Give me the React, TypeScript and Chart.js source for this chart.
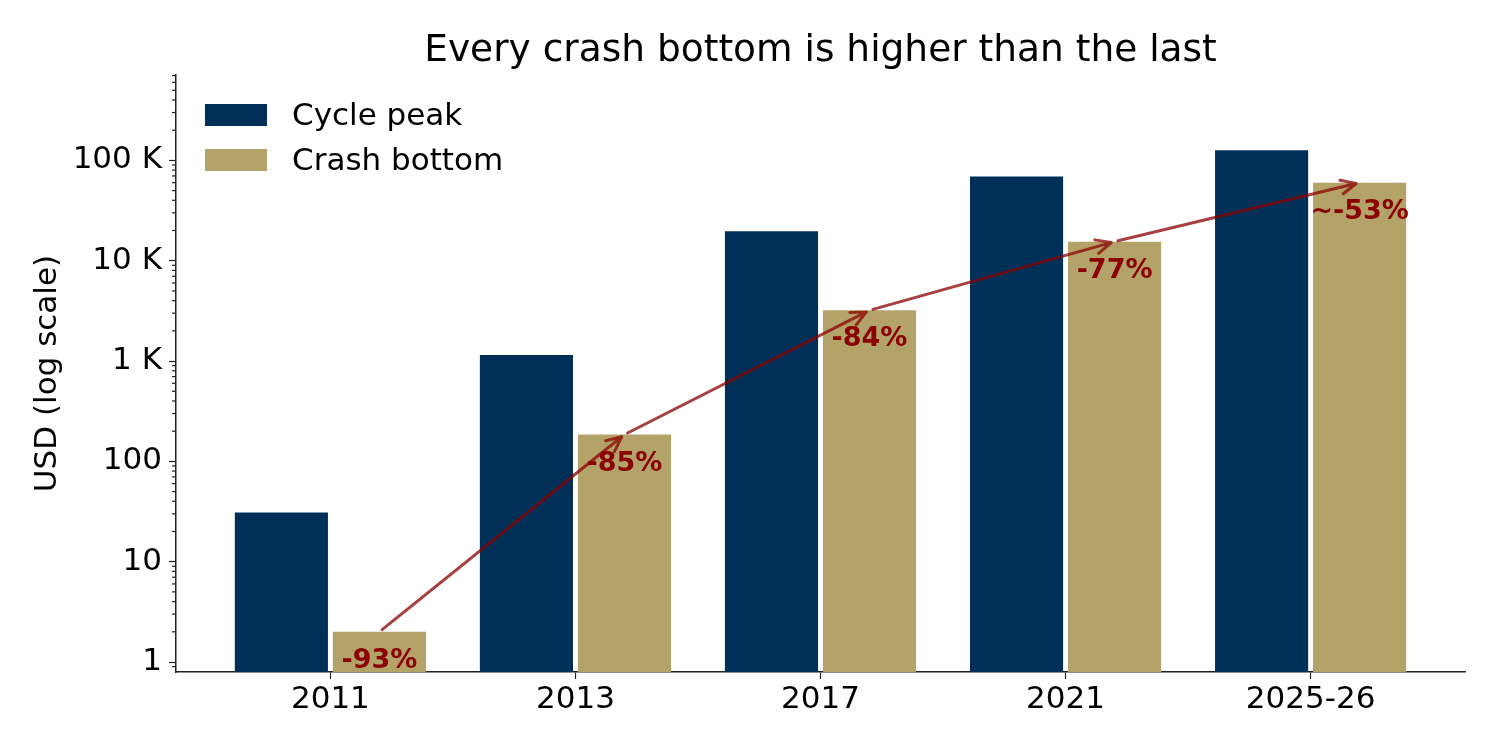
import { useEffect, useRef } from "react"
import { Chart, registerables } from "chart.js"

Chart.register(...registerables)

const cycles = ["2011", "2013", "2017", "2021", "2025-26"]
const cyclePeak = [31, 1150, 19700, 69000, 126000]
const crashBottom = [2, 185, 3200, 15500, 60000]
const drawdownLabels = ["-93%", "-85%", "-84%", "-77%", "~-53%"]
const yTickValues = [1, 10, 100, 1000, 10000, 100000]
const yTickLabels = ["1", "10", "100", "1 K", "10 K", "100 K"]

const NAVY = "#003057"
const GOLD = "#B3A369"
const AXIS = "#222222"
const FONT = "'DejaVu Sans', sans-serif"

// log-scale helpers: which generated ticks are decades / integer minors
function decadeIndex(v: number) {
  return yTickValues.findIndex((t) => Math.abs(t - v) / t < 1e-6)
}

function isMinor(v: number) {
  if (!(v > 0)) return false
  const e = Math.floor(Math.log10(v) + 1e-9)
  const s = Math.round((v / Math.pow(10, e)) * 1e6) / 1e6
  const r = Math.round(s)
  return Math.abs(s - r) < 1e-6 && r > 1 && r < 10
}

const decorations = {
  id: "decorations",
  afterDraw(chart: any) {
    const { ctx, chartArea, scales } = chart
    const y = scales.y

    // minor ticks on the log axis
    ctx.save()
    ctx.strokeStyle = AXIS
    ctx.lineWidth = 1.2
    y.ticks.forEach((t: any) => {
      if (!isMinor(t.value)) return
      const py = y.getPixelForValue(t.value)
      ctx.beginPath()
      ctx.moveTo(chartArea.left - 4, py)
      ctx.lineTo(chartArea.left, py)
      ctx.stroke()
    })
    ctx.restore()

    // arrows between successive crash bottoms
    const bottoms = chart.getDatasetMeta(1).data
    ctx.save()
    ctx.strokeStyle = "rgba(139, 0, 0, 0.75)"
    ctx.lineWidth = 3
    ctx.lineCap = "round"
    ctx.lineJoin = "round"
    for (let i = 0; i < bottoms.length - 1; i++) {
      const a = bottoms[i]
      const b = bottoms[i + 1]
      const dx = b.x - a.x
      const dy = b.y - a.y
      const len = Math.hypot(dx, dy)
      const ux = dx / len
      const uy = dy / len
      const sx = a.x + ux * 3.5
      const sy = a.y + uy * 3.5
      const ex = b.x - ux * 3.5
      const ey = b.y - uy * 3.5
      const hl = 15
      const hw = 7
      ctx.beginPath()
      ctx.moveTo(sx, sy)
      ctx.lineTo(ex, ey)
      ctx.moveTo(ex - ux * hl - uy * hw, ey - uy * hl + ux * hw)
      ctx.lineTo(ex, ey)
      ctx.lineTo(ex - ux * hl + uy * hw, ey - uy * hl - ux * hw)
      ctx.stroke()
    }
    ctx.restore()

    // drawdown labels under each crash-bottom bar top
    ctx.save()
    ctx.fillStyle = "#8B0000"
    ctx.font = `bold 27px ${FONT}`
    ctx.textAlign = "center"
    ctx.textBaseline = "middle"
    bottoms.forEach((bar: any, i: number) => {
      ctx.fillText(drawdownLabels[i], bar.x, bar.y + 29)
    })
    ctx.restore()

    // legend
    ctx.save()
    ctx.font = `31px ${FONT}`
    ctx.textBaseline = "middle"
    ctx.textAlign = "left"
    chart.data.datasets.forEach((ds: any, i: number) => {
      const bx = chartArea.left + 29
      const by = chartArea.top + 29 + i * 45
      ctx.fillStyle = ds.backgroundColor
      ctx.fillRect(bx, by, 62, 22)
      ctx.fillStyle = "#000"
      ctx.fillText(ds.label, bx + 87, by + 13)
    })
    ctx.restore()

    // title centred over the plot area
    ctx.save()
    ctx.font = `37.5px ${FONT}`
    ctx.fillStyle = "#000"
    ctx.textAlign = "center"
    ctx.textBaseline = "middle"
    ctx.fillText("Every crash bottom is higher than the last", (chartArea.left + chartArea.right) / 2, 51)
    ctx.restore()
  },
}

function CycleChart() {
  const chartRef = useRef<HTMLCanvasElement>(null)
  const chartInstance = useRef<Chart | null>(null)

  useEffect(() => {
    if (!chartRef.current) return
    if (chartInstance.current) chartInstance.current.destroy()
    const ctx = chartRef.current.getContext("2d")
    if (!ctx) return

    chartInstance.current = new Chart(ctx, {
      type: "bar",
      data: {
        datasets: [
          {
            label: "Cycle peak",
            data: cyclePeak.map((v, i) => ({ x: i, y: v })),
            backgroundColor: NAVY,
            borderWidth: 0,
          },
          {
            label: "Crash bottom",
            data: crashBottom.map((v, i) => ({ x: i, y: v })),
            backgroundColor: GOLD,
            borderWidth: 0,
          },
        ],
      },
      options: {
        animation: false,
        responsive: true,
        maintainAspectRatio: false,
        layout: { padding: { top: 75, right: 35, left: 0, bottom: 0 } },
        datasets: { bar: { categoryPercentage: 0.8, barPercentage: 0.95 } },
        plugins: {
          legend: { display: false },
          title: { display: false },
          tooltip: { enabled: false },
        },
        scales: {
          x: {
            type: "linear",
            min: -0.63,
            max: 4.63,
            offset: false,
            grid: { offset: false, drawOnChartArea: false, tickLength: 7, tickColor: AXIS, tickWidth: 1.2 },
            border: { color: AXIS, width: 1.5 },
            ticks: {
              stepSize: 1,
              includeBounds: false,
              autoSkip: false,
              maxRotation: 0,
              padding: 2,
              color: "#000",
              font: { family: FONT, size: 31 },
              callback: (v) => cycles[Number(v)] ?? "",
            },
            afterFit: (scale) => {
              scale.height = 78
            },
          },
          y: {
            type: "logarithmic",
            min: 0.795,
            max: 710000,
            grid: {
              drawOnChartArea: false,
              tickLength: 7,
              tickWidth: 1.2,
              tickColor: (c: any) => (decadeIndex(c.tick?.value) >= 0 ? AXIS : "rgba(0,0,0,0)"),
            },
            border: { color: AXIS, width: 1.5 },
            ticks: {
              autoSkip: false,
              padding: 7,
              color: "#000",
              font: { family: FONT, size: 31 },
              callback: (v) => {
                const i = decadeIndex(Number(v))
                return i >= 0 ? yTickLabels[i] : ""
              },
            },
            title: {
              display: true,
              text: "USD (log scale)",
              color: "#000",
              font: { family: FONT, size: 31 },
              padding: { top: 29, bottom: 0 },
            },
            afterFit: (scale) => {
              scale.width = 176
            },
          },
        },
      },
      plugins: [decorations],
    })

    return () => {
      if (chartInstance.current) {
        chartInstance.current.destroy()
        chartInstance.current = null
      }
    }
  }, [])

  return (
    <div style={{ position: "absolute", left: 0, top: 0, width: 1500, height: 750, background: "#fff" }}>
      <canvas ref={chartRef} />
    </div>
  )
}

export default function App() {
  return <CycleChart />
}
